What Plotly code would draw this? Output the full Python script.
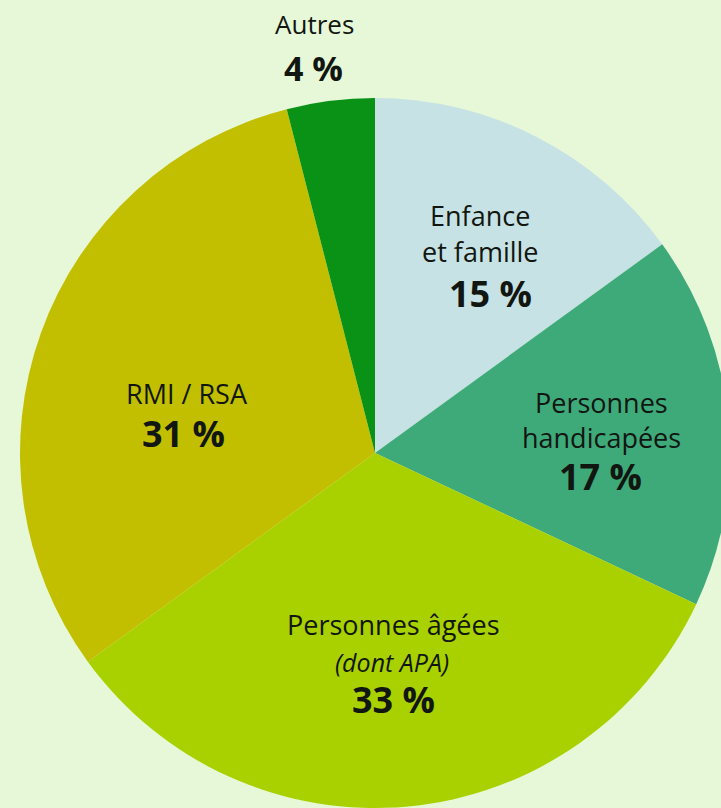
import plotly.graph_objects as go

categories = ["Enfance et famille", "Personnes handicapées", "Personnes âgées (dont APA)", "RMI / RSA", "Autres"]
values = [15, 17, 33, 31, 4]
colors = ["#c6e2e4", "#3eaa7a", "#a9d100", "#c2bf00", "#0a9216"]

W, H = 740, 820
BG = "#e7f8d8"

# pie geometry in pixels (center 375,453 ; radius 355)
cx, cy, r = 375, 453, 355

fig = go.Figure(go.Pie(
    labels=categories,
    values=values,
    sort=False,
    direction="clockwise",
    rotation=0,
    marker=dict(colors=colors, line=dict(width=0)),
    textinfo="none",
    hoverinfo="label+percent",
    showlegend=False,
    domain=dict(x=[(cx - r) / W, (cx + r) / W], y=[(H - (cy + r)) / H, (H - (cy - r)) / H]),
))

FONT = "Open Sans, Noto Sans, sans-serif"

def ann(text, x, y, size, weight="normal", italic=False):
    t = text
    if italic:
        t = "<i>" + t + "</i>"
    fig.add_annotation(text=t, x=x / W, y=1 - y / H, xref="paper", yref="paper",
                       showarrow=False, xanchor="center", yanchor="middle",
                       font=dict(family=FONT, size=size, color="#111611", weight=weight))

NS, PS, BW = 27, 36, "bold"
ann("Autres", 314, 24, 26)
ann("4 %", 313, 68, 34, BW)

ann("Enfance", 480, 215, NS)
ann("et famille", 480, 251, NS)
ann("15 %", 490, 293, PS, BW)

ann("Personnes", 601, 402, NS)
ann("handicapées", 601, 437, NS)
ann("17 %", 600, 477, PS, BW)

ann("RMI / RSA", 187, 393, NS)
ann("31 %", 183, 433, PS, BW)

ann("Personnes âgées", 393, 624, NS)
ann("(dont APA)", 392, 662, 25, italic=True)
ann("33 %", 393, 699, PS, BW)

fig.update_layout(
    width=W, height=H,
    margin=dict(l=0, r=0, t=0, b=0),
    paper_bgcolor=BG, plot_bgcolor=BG,
)

fig.write_html(
    "out.html",
    config=dict(displayModeBar=False),
    post_script="document.body.style.margin='0';document.body.style.overflow='hidden';"
                "document.documentElement.style.overflow='hidden';"
                "document.body.style.background='" + BG + "';",
)
